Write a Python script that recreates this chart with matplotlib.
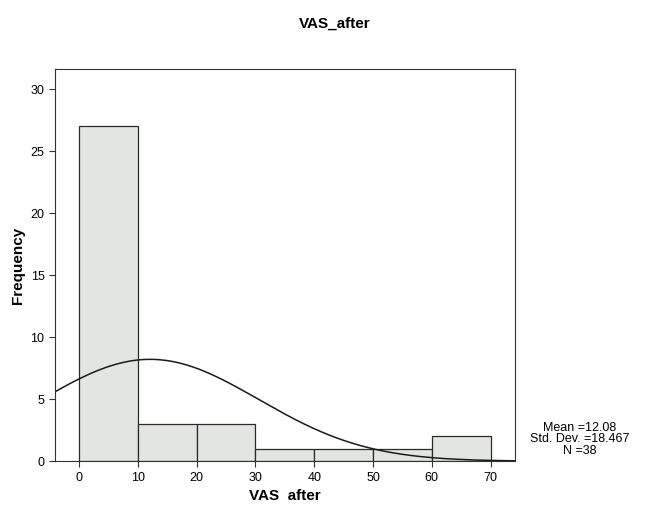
import numpy as np
import matplotlib.pyplot as plt

plt.rcParams['font.family'] = ['Liberation Sans', 'DejaVu Sans']

# histogram bins (VAS after) and counts
bin_edges = [0, 10, 20, 30, 40, 50, 60, 70]
counts = [27, 3, 3, 1, 1, 1, 2]
mean_val = 12.08
std_val = 18.467
n_obs = 38

fig = plt.figure(figsize=(6.54, 5.09), dpi=100)
ax = fig.add_axes([0.084, 0.094, 0.703, 0.770])

widths = np.diff(bin_edges)
ax.bar(bin_edges[:-1], counts, width=widths, align='edge',
       color='#e3e5e3', edgecolor='#2a2a2a', linewidth=0.9)

# normal curve scaled to counts
xs = np.linspace(-4.1, 74.1, 300)
ys = n_obs * 10 / (std_val * np.sqrt(2 * np.pi)) * np.exp(-0.5 * ((xs - mean_val) / std_val) ** 2)
ax.plot(xs, ys, color='#1a1a1a', linewidth=1.1)

ax.set_xlim(-4.1, 74.1)
ax.set_ylim(0, 31.6)
ax.set_xticks(range(0, 71, 10))
ax.set_yticks(range(0, 31, 5))
ax.tick_params(labelsize=9, color='#333333', length=4, width=0.8)
for s in ax.spines.values():
    s.set_linewidth(0.8)
    s.set_color('#333333')

ax.set_xlabel('VAS  after', fontsize=11, fontweight='bold', labelpad=4)
ax.set_ylabel('Frequency', fontsize=11, fontweight='bold', labelpad=4)
fig.suptitle('VAS_after', x=0.512, y=0.968, fontsize=11, fontweight='bold')

fig.text(0.887, 0.137, 'Mean =%.2f\nStd. Dev. =%.3f\nN =%d' % (mean_val, std_val, n_obs),
         ha='center', va='center', fontsize=9, linespacing=0.95)

fig.savefig('out.png', dpi=100)
